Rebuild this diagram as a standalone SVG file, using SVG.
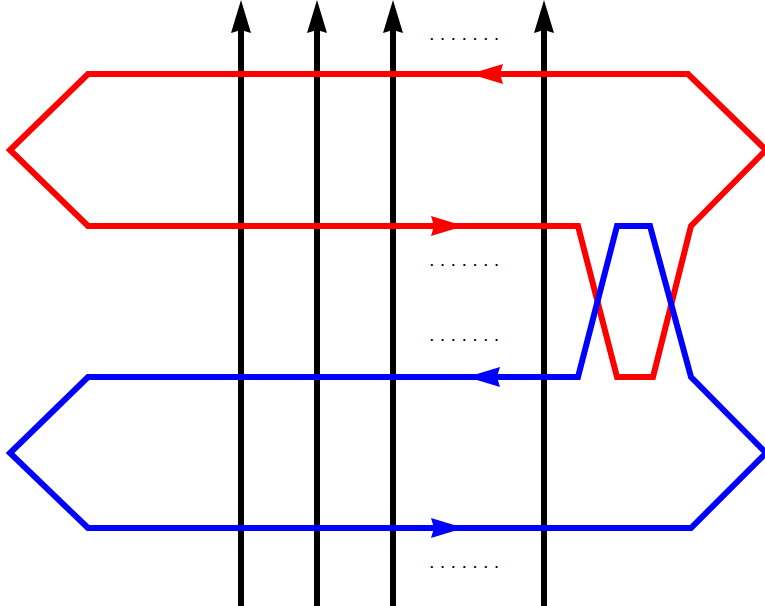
<svg xmlns="http://www.w3.org/2000/svg" width="765" height="606" viewBox="0 0 765 606">
<style>
.v{stroke:#000;stroke-width:6;fill:none}
.r{stroke:#f00;stroke-width:6;fill:none;stroke-linejoin:miter}
.b{stroke:#00f;stroke-width:6;fill:none;stroke-linejoin:miter}
.dots{font-family:"Liberation Sans",sans-serif;font-size:13px;font-weight:bold;letter-spacing:7.2px;fill:#000}
</style>
<defs>
<path id="ah" d="M0,0 L-33,-10 L-30,0 L-33,10 Z"/>
</defs>
<rect width="765" height="606" fill="#fff"/>
<g id="strands">
<g id="s1"><line class="v" x1="241" y1="606" x2="241" y2="30"/><use href="#ah" transform="translate(241,0) rotate(-90)"/></g>
<g id="s2"><line class="v" x1="317" y1="606" x2="317" y2="30"/><use href="#ah" transform="translate(317,0) rotate(-90)"/></g>
<g id="s3"><line class="v" x1="393" y1="606" x2="393" y2="30"/><use href="#ah" transform="translate(393,0) rotate(-90)"/></g>
<g id="s4"><line class="v" x1="544" y1="606" x2="544" y2="30"/><use href="#ah" transform="translate(544,0) rotate(-90)"/></g>
</g>
<g id="connectors">
<g id="red">
<path class="r" d="M88,74 L688,74 L766,150 L691,226 L653,377 L617,377 L578,226 L88,226 L10,150 Z"/>
<use href="#ah" fill="#f00" transform="translate(470,74) rotate(180)"/>
<use href="#ah" fill="#f00" transform="translate(464,226)"/>
</g>
<g id="blue">
<path class="b" d="M88,377 L578,377 L617,226 L650,226 L691,377 L766,453 L691,528 L88,528 L10,453 Z"/>
<use href="#ah" fill="#00f" transform="translate(467,377) rotate(180)"/>
<use href="#ah" fill="#00f" transform="translate(464,528)"/>
</g>
</g>
<g id="labels">
<text class="dots" x="430" y="40">.......</text>
<text class="dots" x="430" y="266">.......</text>
<text class="dots" x="430" y="341">.......</text>
<text class="dots" x="430" y="568">.......</text>
</g>
</svg>
